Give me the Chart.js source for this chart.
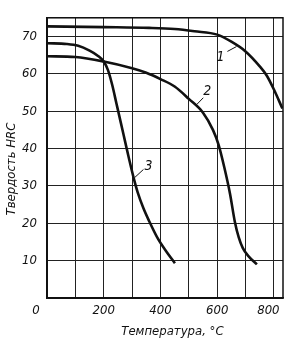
<!DOCTYPE html>
<html>
<head>
<meta charset="utf-8">
<script src="https://cdn.jsdelivr.net/npm/chart.js@4/dist/chart.umd.min.js"></script>
<style>
  html, body { margin: 0; padding: 0; background: #fff; }
  #wrap { width: 300px; height: 342px; position: relative; }
</style>
</head>
<body>
<div id="wrap"><canvas id="hardnessChart"></canvas></div>
<script>
// temperature (°C) and hardness (HRC)
const temps1 = [0, 200, 360, 450, 520, 600, 650, 700, 750, 775, 800, 830];
const hrc1 = [72.7, 72.5, 72.3, 72.0, 71.4, 70.5, 68.6, 66.0, 62.0, 59.5, 55.8, 50.7];

const temps2 = [0, 100, 200, 300, 350, 400, 450, 500, 550, 585, 605, 625, 645, 662, 676, 690, 710, 740];
const hrc2 = [64.7, 64.5, 63.3, 61.5, 60.3, 58.6, 56.6, 53.3, 49.6, 45.0, 41.0, 35.0, 28.0, 20.5, 16.2, 13.4, 11.2, 9.0];

const temps3 = [0, 70, 110, 150, 180, 200, 215, 230, 245, 260, 275, 290, 305, 320, 340, 360, 390, 420, 451];
const hrc3 = [68.2, 68.0, 67.5, 66.2, 64.8, 63.3, 61.0, 57.0, 52.0, 47.0, 42.0, 37.0, 32.3, 28.2, 24.0, 20.6, 16.0, 12.5, 9.3];

const xTickLabels = [0, 200, 400, 600, 800];
const yTickLabels = [10, 20, 30, 40, 50, 60, 70];

const FONT = "'DejaVu Sans Condensed', 'DejaVu Sans', sans-serif";

const toPoints = (xs, ys) => xs.map((x, i) => ({ x: x, y: ys[i] }));

// curve numbers with short leader lines, placed in data units
const curveLabels = [
  { text: "1", at: [612, 64.3], from: [636, 66.0], to: [668, 67.3] },
  { text: "2", at: [565, 55.3], from: [551, 53.6], to: [528, 51.8] },
  { text: "3", at: [358, 35.3], from: [340, 34.4], to: [310, 32.3] },
];

const curveLabelPlugin = {
  id: "curveLabels",
  afterDatasetsDraw(chart) {
    const { ctx, scales, chartArea } = chart;
    const px = (v) => scales.x.getPixelForValue(v);
    const py = (v) => scales.y.getPixelForValue(v);
    ctx.save();
    // frame round the plot
    ctx.strokeStyle = "#111";
    ctx.lineWidth = 1.5;
    ctx.strokeRect(chartArea.left, chartArea.top, chartArea.width, chartArea.height);
    ctx.lineWidth = 1;
    ctx.fillStyle = "#111";
    ctx.font = "italic 14px " + FONT;
    ctx.textAlign = "center";
    ctx.textBaseline = "middle";
    curveLabels.forEach((l) => {
      ctx.beginPath();
      ctx.moveTo(px(l.from[0]), py(l.from[1]));
      ctx.lineTo(px(l.to[0]), py(l.to[1]));
      ctx.stroke();
      ctx.fillText(l.text, px(l.at[0]), py(l.at[1]));
    });
    ctx.restore();
  },
};

const curve = (xs, ys) => ({
  data: toPoints(xs, ys),
  borderColor: "#111",
  borderWidth: 2.6,
  pointRadius: 0,
  fill: false,
  cubicInterpolationMode: "monotone",
});

new Chart(document.getElementById("hardnessChart"), {
  type: "line",
  data: {
    datasets: [curve(temps1, hrc1), curve(temps2, hrc2), curve(temps3, hrc3)],
  },
  plugins: [curveLabelPlugin],
  options: {
    responsive: true,
    maintainAspectRatio: false,
    animation: false,
    layout: { padding: { top: 14, right: 17, left: 0, bottom: 0 } },
    plugins: { legend: { display: false }, tooltip: { enabled: false } },
    scales: {
      x: {
        type: "linear",
        min: 0,
        max: 832,
        afterFit: (s) => { s.height = 44; },
        border: { display: true, color: "#111", width: 1.5 },
        grid: { color: "#222", lineWidth: 1, drawTicks: false },
        ticks: {
          stepSize: 100,
          includeBounds: false,
          padding: 5,
          maxRotation: 0,
          autoSkip: false,
          color: "#111",
          font: { family: FONT, size: 13, style: "italic" },
          callback: (v) => {
            if (!xTickLabels.includes(v)) return "";
            if (v === 0) return "0      ";
            if (v === 800) return "800   ";
            return String(v);
          },
        },
        title: {
          display: true,
          text: "    Температура, °C",
          color: "#111",
          padding: { top: 0, bottom: 3 },
          font: { family: FONT, size: 13, style: "italic" },
        },
      },
      y: {
        min: 0,
        max: 75,
        afterFit: (s) => { s.width = 47; },
        border: { display: true, color: "#111", width: 1.5 },
        grid: { color: "#222", lineWidth: 1, drawTicks: false },
        ticks: {
          stepSize: 10,
          padding: 10,
          color: "#111",
          font: { family: FONT, size: 13, style: "italic" },
          callback: (v) => (yTickLabels.includes(v) ? String(v) : ""),
        },
        title: {
          display: true,
          text: "Твердость HRC      ",
          color: "#111",
          padding: { top: 4, bottom: 0 },
          font: { family: FONT, size: 13, style: "italic" },
        },
      },
    },
  },
});
</script>
</body>
</html>
